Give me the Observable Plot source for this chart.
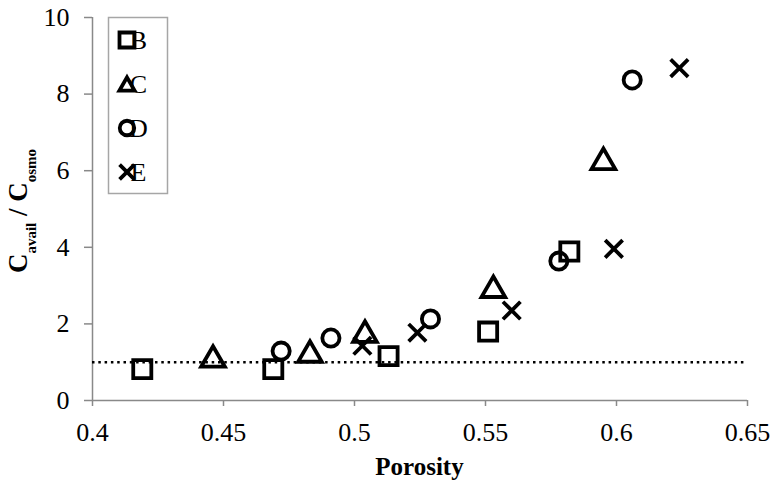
<!DOCTYPE html>
<html>
<head>
<meta charset="utf-8">
<script src="https://cdn.jsdelivr.net/npm/d3@7"></script>
<script src="https://cdn.jsdelivr.net/npm/@observablehq/plot@0.6"></script>
<style>
  html, body { margin: 0; padding: 0; background: #fff; }
  #chart svg { display: block; }
</style>
</head>
<body>
<div id="chart"></div>
<script>
// ---- Data ----
const seriesNames = ["B", "C", "D", "E"];
const porosityB = [0.419, 0.469, 0.513, 0.551, 0.582];
const ratioB    = [0.82, 0.82, 1.16, 1.80, 3.89];
const porosityC = [0.446, 0.483, 0.504, 0.553, 0.595];
const ratioC    = [1.15, 1.28, 1.80, 2.97, 6.31];
const porosityD = [0.472, 0.491, 0.529, 0.578, 0.606];
const ratioD    = [1.29, 1.63, 2.13, 3.64, 8.37];
const porosityE = [0.503, 0.524, 0.560, 0.599, 0.624];
const ratioE    = [1.43, 1.77, 2.35, 3.96, 8.68];
const referenceLine = [1];
const xTicks = [0.4, 0.45, 0.5, 0.55, 0.6, 0.65];
const yTicks = [0, 2, 4, 6, 8, 10];

const toRows = (xs, ys, s) => xs.map((x, i) => ({porosity: x, ratio: ys[i], series: s}));
const rowsB = toRows(porosityB, ratioB, "B");
const rowsC = toRows(porosityC, ratioC, "C");
const rowsD = toRows(porosityD, ratioD, "D");
const rowsE = toRows(porosityE, ratioE, "E");

// triangle centred on its bounding box (as in the reference)
const triangleBox = {
  draw(ctx, size) {
    const y = Math.sqrt(size / (Math.sqrt(3) * 3));
    ctx.moveTo(0, -1.5 * y);
    ctx.lineTo(Math.sqrt(3) * y, 1.5 * y);
    ctx.lineTo(-Math.sqrt(3) * y, 1.5 * y);
    ctx.closePath();
  }
};

const symbols = {B: d3.symbolSquare, C: triangleBox, D: d3.symbolCircle, E: d3.symbolTimes};
const radii = {B: 10.2, C: 8.8, D: 8.6, E: 8};
const legendSizes = {B: 225, C: 100, D: 165, E: 145};
const axisColor = "#898989";
const font = "'Liberation Serif', 'Times New Roman', serif";
const SW = 3.8;

const dotMark = (rows, s) => Plot.dot(rows, {
  x: "porosity", y: "ratio", symbol: () => s, r: radii[s],
  stroke: "black", strokeWidth: SW, fill: "none"
});

const chart = Plot.plot({
  width: 774,
  height: 489,
  marginLeft: 92,
  marginRight: 27,
  marginTop: 17,
  marginBottom: 89,
  style: {fontFamily: font, fontSize: "26px", color: "black", background: "white"},
  x: {domain: [0.4, 0.65]},
  y: {domain: [0, 10]},
  symbol: {domain: seriesNames, range: seriesNames.map(s => symbols[s])},
  marks: [
    Plot.axisX({ticks: xTicks, tickFormat: d => String(d), tickSize: 6, tickPadding: 16,
      stroke: axisColor, strokeWidth: 1.5, fill: "black", label: null,
      fontFamily: font, fontSize: 26}),
    Plot.axisY({ticks: yTicks, tickFormat: d => String(d), tickSize: 8, tickPadding: 15,
      stroke: axisColor, strokeWidth: 1.5, fill: "black", label: null,
      fontFamily: font, fontSize: 26}),
    Plot.ruleY([0], {stroke: axisColor, strokeWidth: 1.5}),
    Plot.ruleX([0.4], {stroke: axisColor, strokeWidth: 1.5}),
    Plot.ruleY(referenceLine, {stroke: "black", strokeWidth: 2.5, strokeDasharray: "2.5,3.8"}),
    dotMark(rowsB, "B"),
    dotMark(rowsC, "C"),
    dotMark(rowsD, "D"),
    dotMark(rowsE, "E")
  ]
});

document.getElementById("chart").appendChild(chart);

// ---- titles and legend added into the SVG ----
const svg = d3.select(chart);

// x title
svg.append("text")
  .attr("x", (92 + 747) / 2).attr("y", 475)
  .attr("text-anchor", "middle")
  .style("font-family", font).style("font-size", "25px").style("font-weight", "bold")
  .attr("fill", "black")
  .text("Porosity");

// y title with subscripts
const yt = svg.append("text")
  .attr("transform", `translate(27, 211) rotate(-90)`)
  .attr("text-anchor", "middle")
  .style("font-family", font).style("font-size", "27px").style("font-weight", "bold")
  .attr("fill", "black");
yt.append("tspan").text("C");
yt.append("tspan").style("font-size", "15px").attr("dy", 9).text("avail");
yt.append("tspan").attr("dy", -9).text(" / C");
yt.append("tspan").style("font-size", "15px").attr("dy", 9).text("osmo");

// legend
const lg = svg.append("g");
lg.append("rect")
  .attr("x", 108.5).attr("y", 17.5).attr("width", 59).attr("height", 176)
  .attr("fill", "white").attr("stroke", "#a6a6a6").attr("stroke-width", 1.5);
seriesNames.forEach((s, i) => {
  const cy = 40 + i * 44;
  lg.append("path")
    .attr("transform", `translate(127, ${cy})`)
    .attr("d", d3.symbol(symbols[s], legendSizes[s])())
    .attr("fill", "none").attr("stroke", "black").attr("stroke-width", SW);
  lg.append("text")
    .attr("x", 138.5).attr("y", cy).attr("dy", "0.35em")
    .style("font-family", font).style("font-size", "26px").attr("fill", "black")
    .text(s);
});
</script>
</body>
</html>
